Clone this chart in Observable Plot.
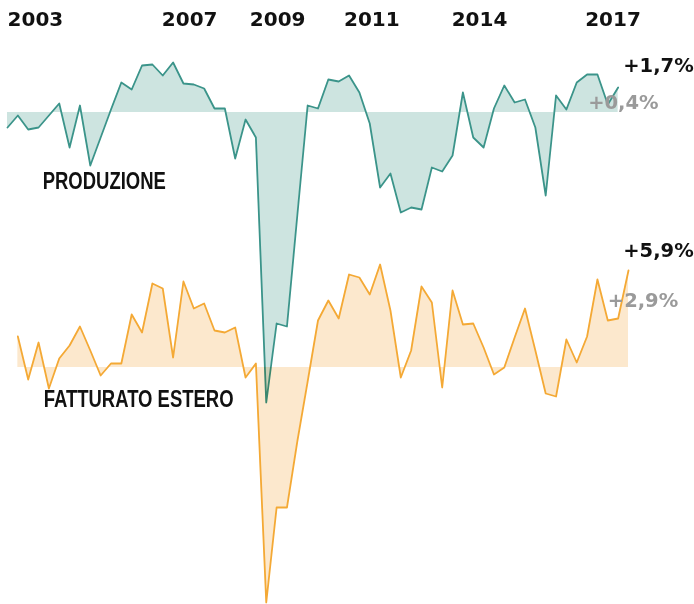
<!DOCTYPE html>
<html><head><meta charset="utf-8">
<script src="https://cdn.jsdelivr.net/npm/d3@7"></script>
<script src="https://cdn.jsdelivr.net/npm/@observablehq/plot@0.6"></script>
<style>body{margin:0;background:#fff}</style>
</head><body><div id="chart"></div>
<script>
// Series names (facets)
const seriesNames = ["PRODUZIONE", "FATTURATO ESTERO"];

// Quarterly % change
const produzione = [-1.5, -0.3, -1.7, -1.5, -0.3, 0.9, -3.5, 0.7, -5.3, -2.5, 0.3, 3.0, 2.3, 4.7, 4.8, 3.7, 5.0, 2.9, 2.8, 2.4,
  0.4, 0.4, -4.6, -0.7, -2.5, -29.0, -21.1, -21.4, -10.3, 0.7, 0.4, 3.3, 3.1, 3.7, 2.0, -1.1, -7.5, -6.1, -10.0, -9.5,
  -9.7, -5.5, -5.9, -4.3, 2.0, -2.5, -3.5, 0.4, 2.7, 1.0, 1.3, -1.5, -8.3, 1.7, 0.3, 3.0, 3.8, 3.8, 0.8, 2.5];
const fatturatoEstero = [3.1, -1.2, 2.5, -2.1, 0.9, 2.2, 4.1, 1.7, -0.8, 0.4, 0.4, 5.3, 3.5, 8.4, 7.9, 1.0, 8.6, 5.9, 6.4, 3.7,
  3.5, 4.0, -1.0, 0.4, -23.5, -14.0, -14.0, -7.4, -1.4, 4.7, 6.7, 4.9, 9.3, 9.0, 7.3, 10.3, 5.7, -1.0, 1.7, 8.1,
  6.5, -2.0, 7.7, 4.3, 4.4, 2.0, -0.7, 0.0, 3.0, 5.9, 1.7, -2.6, -2.9, 2.8, 0.5, 3.1, 8.8, 4.7, 4.9, 9.7];
const fatturatoOffset = 1; // export series starts one quarter later

// Top axis year labels (positions in quarter index)
const yearTickPos = [2.7, 17.6, 26.1, 35.2, 45.6, 58.5];
const yearTickLabels = ["2003", "2007", "2009", "2011", "2014", "2017"];

// Annotations
const nameLabelX = [3.4, 3.5];
const nameLabelY = [-6.9, -3.2];
const totalTexts = ["+1,7%", "+5,9%"];
const totalX = [66.3, 66.3];
const totalY = [4.7, 11.7];
const lastTexts = ["+0,4%", "+2,9%"];
const lastX = [56.1, 58.0];
const lastY = [1.0, 6.7];

const tealLine = "#3b948a", tealFill = "#cde4e0";
const orangeLine = "#f4a935", orangeFill = "#fce8cd";

const rowsP = produzione.map((v, i) => ({series: seriesNames[0], i, v}));
const rowsF = fatturatoEstero.map((v, i) => ({series: seriesNames[1], i: i + fatturatoOffset, v}));
const nameRows = seriesNames.map((s, k) => ({series: s, x: nameLabelX[k], y: nameLabelY[k], text: s}));
const totalRows = totalTexts.map((t, k) => ({series: seriesNames[k], x: totalX[k], y: totalY[k], text: t}));
const lastRows = lastTexts.map((t, k) => ({series: seriesNames[k], x: lastX[k], y: lastY[k], text: t}));
const tickMap = new Map(yearTickPos.map((p, k) => [p, yearTickLabels[k]]));

const chart = Plot.plot({
  width: 694, height: 604,
  marginTop: 40, marginBottom: 54, marginLeft: 7, marginRight: 66,
  style: {background: "#fff", color: "#111", overflow: "visible"},
  x: {domain: [0, 60], axis: null},
  y: {domain: [-18.3, 7.2], axis: null},
  fy: {domain: seriesNames, padding: 0, axis: null},
  marks: [
    Plot.areaY(rowsP, {x: "i", y: "v", fy: "series", fill: tealFill}),
    Plot.lineY(rowsP, {x: "i", y: "v", fy: "series", stroke: tealLine, strokeWidth: 1.8}),
    Plot.areaY(rowsF, {x: "i", y: "v", fy: "series", fill: orangeFill, mixBlendMode: "multiply"}),
    Plot.lineY(rowsF, {x: "i", y: "v", fy: "series", stroke: orangeLine, strokeWidth: 1.8}),
    Plot.axisX({anchor: "top", ticks: yearTickPos, tickFormat: d => tickMap.get(d), tickSize: 0, tickPadding: 15,
      fontSize: 20, fontWeight: "bold", fontFamily: "DejaVu Sans", label: null}),
    Plot.text(nameRows, {x: "x", y: "y", fy: "series", text: "text", textAnchor: "start",
      fontFamily: "'Liberation Sans', Arial, sans-serif", fontWeight: "bold", fontSize: 24, fill: "#111"}),
    Plot.text(totalRows, {x: "x", y: "y", fy: "series", text: "text", textAnchor: "end", fill: "#111",
      fontFamily: "DejaVu Sans", fontWeight: "bold", fontSize: 19.5}),
    Plot.text(lastRows, {x: "x", y: "y", fy: "series", text: "text", textAnchor: "start", fill: "#9a9a9a",
      fontFamily: "DejaVu Sans", fontWeight: "bold", fontSize: 19.5})
  ]
});
// condensed look for the series names
d3.select(chart).selectAll("text").filter(function() { return seriesNames.includes(this.textContent); })
  .each(function() {
    const t = this.getAttribute("transform");
    if (t) this.setAttribute("transform", t + " scale(0.77,1)");
  });
document.getElementById("chart").append(chart);
</script>
</body></html>
